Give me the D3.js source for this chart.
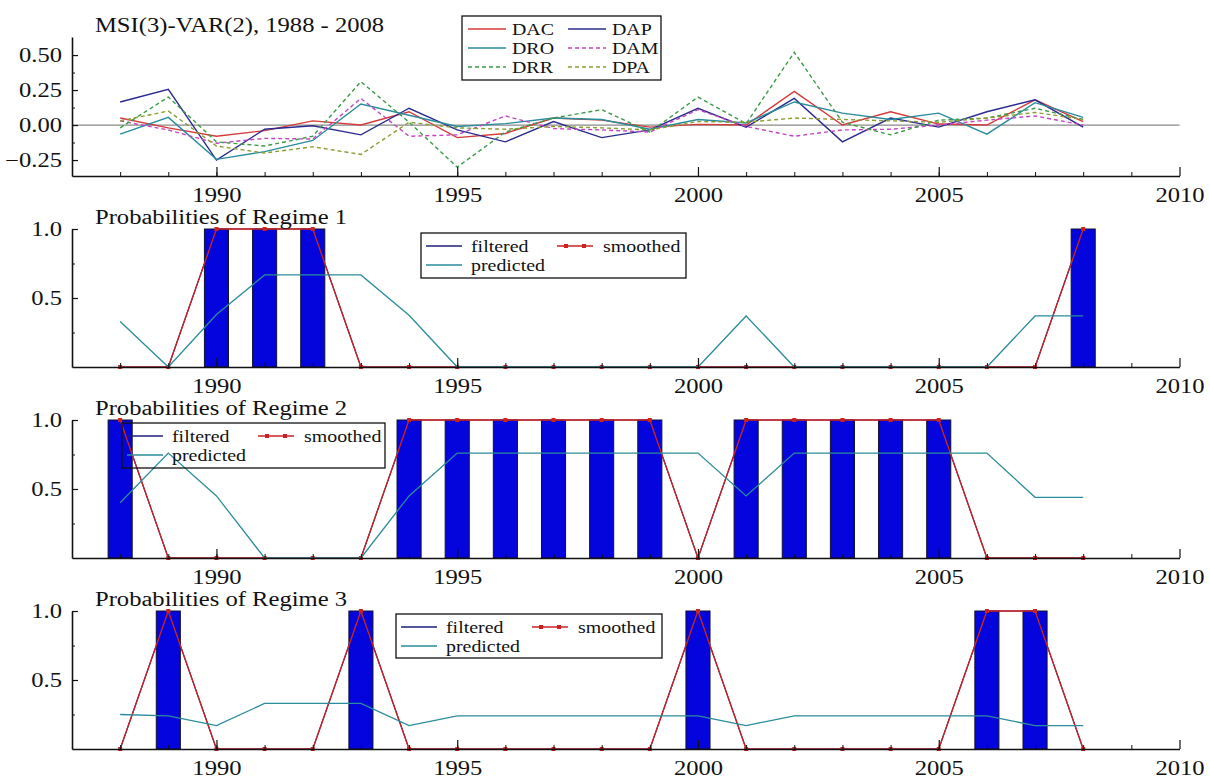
<!DOCTYPE html>
<html>
<head>
<meta charset="utf-8">
<script src="https://cdn.jsdelivr.net/npm/d3@7"></script>
<style>
  body { margin: 0; background: #fff; }
  svg { display: block; }
  text { font-family: "Liberation Serif", "Times New Roman", serif; fill: #111; }
</style>
</head>
<body>
<svg id="chart" width="1210" height="780"></svg>
<script>
// ---- data -------------------------------------------------------------
const years = [1988, 1989, 1990, 1991, 1992, 1993, 1994, 1995, 1996, 1997, 1998,
               1999, 2000, 2001, 2002, 2003, 2004, 2005, 2006, 2007, 2008];

// differenced series used in the MSI(3)-VAR(2)
const DAC = [0.05, -0.02, -0.08, -0.04, 0.03, 0.00, 0.095, -0.09, -0.06, 0.05, 0.035,
             -0.015, 0.005, 0.00, 0.24, 0.00, 0.095, 0.007, 0.00, 0.18, 0.025];
const DAP = [0.165, 0.255, -0.25, -0.03, -0.005, -0.07, 0.12, -0.035, -0.12, 0.025, -0.09,
             -0.035, 0.12, -0.015, 0.19, -0.12, 0.05, -0.015, 0.095, 0.18, -0.015];
const DRO = [-0.065, 0.055, -0.245, -0.19, -0.11, 0.15, 0.07, -0.01, 0.01, 0.05, 0.04,
             -0.03, 0.04, 0.015, 0.165, 0.085, 0.04, 0.085, -0.065, 0.16, 0.055];
const DAM = [0.03, -0.035, -0.13, -0.095, -0.10, 0.19, -0.08, -0.07, 0.065, -0.025, -0.035,
             -0.05, 0.11, -0.01, -0.08, -0.035, -0.03, 0.00, 0.035, 0.065, 0.00];
const DRR = [-0.02, 0.20, -0.12, -0.15, -0.08, 0.31, 0.02, -0.30, -0.05, 0.05, 0.11,
             -0.05, 0.20, 0.01, 0.52, 0.02, -0.07, 0.035, 0.05, 0.12, 0.04];
const DPA = [0.03, 0.10, -0.15, -0.20, -0.155, -0.21, 0.02, -0.02, -0.03, -0.01, -0.02,
             -0.035, 0.025, 0.02, 0.05, 0.04, 0.03, 0.02, 0.05, 0.09, 0.04];

// regime probabilities
const filtered1  = [0, 0, 1, 1, 1, 0, 0, 0, 0, 0, 0, 0, 0, 0, 0, 0, 0, 0, 0, 0, 1];
const smoothed1  = [0, 0, 1, 1, 1, 0, 0, 0, 0, 0, 0, 0, 0, 0, 0, 0, 0, 0, 0, 0, 1];
const predicted1 = [0.33, 0, 0.38, 0.667, 0.667, 0.667, 0.375, 0, 0, 0, 0,
                    0, 0, 0.37, 0, 0, 0, 0, 0, 0.37, 0.37];

const filtered2  = [1, 0, 0, 0, 0, 0, 1, 1, 1, 1, 1, 1, 0, 1, 1, 1, 1, 1, 0, 0, 0];
const smoothed2  = [1, 0, 0, 0, 0, 0, 1, 1, 1, 1, 1, 1, 0, 1, 1, 1, 1, 1, 0, 0, 0];
const predicted2 = [0.40, 0.76, 0.45, 0, 0, 0, 0.45, 0.76, 0.76, 0.76, 0.76,
                    0.76, 0.76, 0.45, 0.76, 0.76, 0.76, 0.76, 0.76, 0.44, 0.44];

const filtered3  = [0, 1, 0, 0, 0, 1, 0, 0, 0, 0, 0, 0, 1, 0, 0, 0, 0, 0, 1, 1, 0];
const smoothed3  = [0, 1, 0, 0, 0, 1, 0, 0, 0, 0, 0, 0, 1, 0, 0, 0, 0, 0, 1, 1, 0];
const predicted3 = [0.25, 0.24, 0.17, 0.33, 0.33, 0.33, 0.17, 0.24, 0.24, 0.24, 0.24,
                    0.24, 0.24, 0.17, 0.24, 0.24, 0.24, 0.24, 0.24, 0.17, 0.17];

const majorYears = [1990, 1995, 2000, 2005, 2010];
const topTicks = [-0.25, 0, 0.25, 0.5];
const probTicks = [0.5, 1.0];

// ---- layout & style ---------------------------------------------------
const svg = d3.select("#chart");
const SX = 1.23;          // horizontal text stretch
const FONT = 20;
const LEGFONT = 17;
const LEGSX = 1.17;

const x = d3.scaleLinear().domain([1987, 2010]).range([72, 1179.5]);
const barHalf = x(1988.25) - x(1988);

const series = [
  { name: "DAC", values: DAC, color: "#d43a3a", dash: null },
  { name: "DAP", values: DAP, color: "#2b2b8f", dash: null },
  { name: "DRO", values: DRO, color: "#2a8c9c", dash: null },
  { name: "DAM", values: DAM, color: "#c444c4", dash: "4,3" },
  { name: "DRR", values: DRR, color: "#3c9a48", dash: "4,3" },
  { name: "DPA", values: DPA, color: "#8c9c34", dash: "4,3" }
];

function stretchedText(g, px, py, str, size, sx, anchor) {
  return g.append("text")
    .attr("transform", `translate(${px},${py}) scale(${sx},1)`)
    .attr("text-anchor", anchor || "start")
    .style("font-size", size + "px")
    .text(str);
}

function drawXAxis(g, yPos) {
  const minor = g.append("g").attr("transform", `translate(0,${yPos})`)
    .call(d3.axisBottom(x).tickValues(years.concat([2009])).tickSizeInner(-4).tickSizeOuter(0).tickFormat(""));
  minor.select(".domain").remove();
  minor.selectAll("line").attr("stroke", "#111");
  const major = g.append("g").attr("transform", `translate(0,${yPos})`)
    .call(d3.axisBottom(x).tickValues(majorYears).tickSizeInner(-9).tickSizeOuter(0)
      .tickPadding(12).tickFormat(d3.format("d")));
  major.select(".domain").attr("stroke", "#111").attr("stroke-width", 1.6);
  major.selectAll("line").attr("stroke", "#111").attr("stroke-width", 1.2);
  major.selectAll("text")
    .style("font-size", FONT + "px").attr("fill", "#111")
    .attr("transform", `scale(${SX},1)`);
}

function drawYAxis(g, yScale, majors, minors, fmt) {
  const minorAx = g.append("g").attr("transform", `translate(${x(1987)},0)`)
    .call(d3.axisLeft(yScale).tickValues(minors).tickSizeInner(-3).tickSizeOuter(0).tickFormat(""));
  minorAx.select(".domain").remove();
  minorAx.selectAll("line").attr("stroke", "#111");
  const ax = g.append("g").attr("transform", `translate(${x(1987)},0)`)
    .call(d3.axisLeft(yScale).tickValues(majors).tickSizeInner(-6).tickSizeOuter(0)
      .tickPadding(0).tickFormat(fmt));
  ax.select(".domain").attr("stroke", "#111").attr("stroke-width", 1.6);
  ax.selectAll("line").attr("stroke", "#111").attr("stroke-width", 1.2);
  ax.selectAll("text")
    .style("font-size", FONT + "px").attr("fill", "#111")
    .attr("x", 0)
    .attr("transform", `translate(-10,0) scale(${SX},1)`);
}

// ---- top panel: the six series -----------------------------------------
const seriesPanel = svg.append("g");
const yTop = d3.scaleLinear().domain([-0.364, 0.629]).range([176, 37]);

seriesPanel.append("line")
  .attr("x1", x(1987)).attr("x2", x(2010))
  .attr("y1", yTop(0)).attr("y2", yTop(0))
  .attr("stroke", "#8a8a8a").attr("stroke-width", 1.3);

const lineTop = d3.line().x((d, i) => x(years[i])).y(d => yTop(d));
series.forEach(s => {
  seriesPanel.append("path")
    .datum(s.values)
    .attr("d", lineTop)
    .attr("fill", "none")
    .attr("stroke", s.color)
    .attr("stroke-width", 1.4)
    .attr("stroke-dasharray", s.dash);
});

drawXAxis(seriesPanel, 176);
drawYAxis(seriesPanel, yTop, topTicks, [-0.125, 0.125, 0.375], d3.format(".2f"));
stretchedText(seriesPanel, 95, 32, "MSI(3)-VAR(2), 1988 - 2008", FONT, SX);

// legend of the six series
const leg = seriesPanel.append("g");
leg.append("rect").attr("x", 462).attr("y", 16).attr("width", 199).attr("height", 64)
  .attr("fill", "none").attr("stroke", "#111").attr("stroke-width", 1.3);
const legendOrder = ["DAC", "DAP", "DRO", "DAM", "DRR", "DPA"];
legendOrder.forEach((name, i) => {
  const s = series.find(d => d.name === name);
  const col = i % 2, row = Math.floor(i / 2);
  const lx = col === 0 ? 468 : 568;
  const ly = 29 + row * 19;
  leg.append("line").attr("x1", lx).attr("x2", lx + 38).attr("y1", ly).attr("y2", ly)
    .attr("stroke", s.color).attr("stroke-width", 1.4).attr("stroke-dasharray", s.dash);
  stretchedText(leg, lx + 44, ly + 6, s.name, LEGFONT, LEGSX);
});

// ---- regime probability panels ---------------------------------------------
const panels = [
  { title: "Probabilities of Regime 1", top: 229, axis: 367, filt: filtered1, smooth: smoothed1, pred: predicted1,
    legend: { x: 421, y: 233, w: 265, h: 45 } },
  { title: "Probabilities of Regime 2", top: 420, axis: 558, filt: filtered2, smooth: smoothed2, pred: predicted2,
    legend: { x: 122, y: 423, w: 263, h: 45 } },
  { title: "Probabilities of Regime 3", top: 611, axis: 749, filt: filtered3, smooth: smoothed3, pred: predicted3,
    legend: { x: 396, y: 614, w: 266, h: 44 } }
];

const RED = "#cc2222", TEAL = "#2a8c9c", NAVY = "#1e1e7a", BAR = "#0404dc";

panels.forEach(p => {
  const g = svg.append("g");
  const y = d3.scaleLinear().domain([0, 1]).range([p.axis, p.top]);

  // regime bars
  g.selectAll("rect.bar")
    .data(years.map((yr, i) => ({ yr, v: p.smooth[i] })).filter(d => d.v > 0.5))
    .join("rect")
    .attr("class", "bar")
    .attr("x", d => x(d.yr) - barHalf)
    .attr("width", barHalf * 2)
    .attr("y", d => y(d.v))
    .attr("height", d => y(0) - y(d.v))
    .attr("fill", BAR)
    .attr("stroke", "#101030")
    .attr("stroke-width", 1);

  const ln = d3.line().x((d, i) => x(years[i])).y(d => y(d));

  g.append("path").datum(p.filt).attr("d", ln)
    .attr("fill", "none").attr("stroke", NAVY).attr("stroke-width", 1.2);
  g.append("path").datum(p.smooth).attr("d", ln)
    .attr("fill", "none").attr("stroke", RED).attr("stroke-width", 1.3);
  g.selectAll("rect.mk").data(p.smooth).join("rect")
    .attr("class", "mk")
    .attr("x", (d, i) => x(years[i]) - 2).attr("y", d => y(d) - 2)
    .attr("width", 4).attr("height", 4).attr("fill", RED);
  g.append("path").datum(p.pred).attr("d", ln)
    .attr("fill", "none").attr("stroke", TEAL).attr("stroke-width", 1.3);

  drawXAxis(g, p.axis);
  drawYAxis(g, y, probTicks, [0.25, 0.75], d3.format(".1f"));
  stretchedText(g, 95, p.top - 5, p.title, FONT, SX);

  // legend
  const L = p.legend;
  const lg = g.append("g");
  lg.append("rect").attr("x", L.x).attr("y", L.y).attr("width", L.w).attr("height", L.h)
    .attr("fill", "none").attr("stroke", "#111").attr("stroke-width", 1.3);
  lg.append("line").attr("x1", L.x + 5).attr("x2", L.x + 41).attr("y1", L.y + 13).attr("y2", L.y + 13)
    .attr("stroke", NAVY).attr("stroke-width", 1.3);
  stretchedText(lg, L.x + 50, L.y + 19, "filtered", LEGFONT, LEGSX);
  lg.append("line").attr("x1", L.x + 5).attr("x2", L.x + 41).attr("y1", L.y + 32).attr("y2", L.y + 32)
    .attr("stroke", TEAL).attr("stroke-width", 1.3);
  stretchedText(lg, L.x + 50, L.y + 38, "predicted", LEGFONT, LEGSX);
  lg.append("line").attr("x1", L.x + 136).attr("x2", L.x + 172).attr("y1", L.y + 13).attr("y2", L.y + 13)
    .attr("stroke", RED).attr("stroke-width", 1.3);
  [L.x + 145, L.x + 163].forEach(mx => {
    lg.append("rect").attr("x", mx - 2).attr("y", L.y + 11).attr("width", 4).attr("height", 4).attr("fill", RED);
  });
  stretchedText(lg, L.x + 182, L.y + 19, "smoothed", LEGFONT, LEGSX);
});
</script>
</body>
</html>
